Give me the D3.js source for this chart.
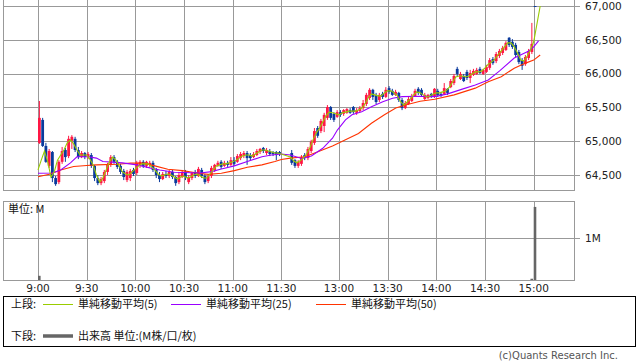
<!DOCTYPE html>
<html>
<head>
<meta charset="UTF-8">
<title>intraday chart</title>
<style>
  body { margin: 0; background: #fff; }
  svg text { font-family: "DejaVu Sans", sans-serif; fill: #222; }
  svg text.jp { font-family: "Noto Sans CJK JP", sans-serif; fill: #111; }
</style>
<script src="https://cdn.jsdelivr.net/npm/d3@7"></script>
</head>
<body>
<svg id="chart" width="638" height="362"></svg>
<script>
// 2-minute candles, morning session then afternoon session, then the 15:00 close
var sessions = [["9:00", "11:28"], ["12:30", "14:58"]]
var closeTime = "15:00"

var opens = [
  64975,65315,64930,64635,64840,64455,64395,64695,64870,64780,
  65005,65035,64870,64765,64825,64765,64795,64635,64455,64380,
  64410,64545,64650,64765,64695,64635,64560,64425,64455,64575,
  64530,64635,64695,64635,64650,64680,64575,64500,64440,64515,
  64485,64545,64470,64395,64470,64545,64395,64455,64545,64485,
  64575,64485,64410,64485,64575,64635,64695,64635,64680,64650,
  64720,64695,64750,64780,64825,64795,64765,64795,64840,64900,
  64825,64855,64840,64840,64840,
  64825,64720,64635,64665,64795,64750,64855,64975,65195,65150,
  65225,65345,65505,65405,65360,65430,65405,65420,65460,65505,
  65420,65445,65490,65550,65640,65760,65685,65610,65700,65655,
  65785,65745,65685,65715,65610,65490,65550,65595,65670,65775,
  65760,65625,65640,65700,65655,65745,65700,65700,65775,65800,
  65860,66070,65920,65965,66025,65935,65980,65995,66070,65995,
  66025,66085,66215,66185,66260,66305,66350,66530,66470,66425,
  66320,66200,66140,66230,66320,
  67000]
var highs = [
  65595,65345,64975,64885,64855,64485,64720,64915,64900,65080,
  65090,65065,64915,64855,64840,64840,64825,64650,64500,64470,
  64575,64680,64795,64795,64720,64665,64590,64575,64590,64605,
  64710,64720,64720,64710,64710,64710,64605,64545,64545,64560,
  64575,64575,64485,64545,64575,64575,64500,64545,64575,64620,
  64605,64515,64500,64635,64665,64710,64720,64710,64710,64765,
  64765,64810,64840,64855,64855,64825,64840,64885,64900,64915,
  64900,64885,64855,64855,64855,
  64870,64735,64720,64795,64825,64915,65020,65195,65225,65330,
  65420,65535,65520,65430,65460,65460,65475,65490,65490,65520,
  65490,65520,65610,65715,65785,65775,65715,65715,65730,65800,
  65815,65775,65760,65730,65640,65595,65655,65700,65775,65800,
  65785,65715,65700,65715,65785,65775,65730,65860,65785,65920,
  65995,66100,66025,65995,66055,66055,66070,66085,66100,66070,
  66130,66230,66245,66320,66365,66410,66480,66540,66510,66455,
  66350,66230,66275,66365,66750,
  67000]
var lows = [
  64960,64915,64680,64605,64395,64340,64365,64665,64695,64750,
  64885,64840,64735,64750,64735,64735,64605,64410,64350,64350,
  64380,64500,64620,64665,64590,64515,64425,64395,64410,64485,
  64500,64605,64605,64605,64620,64545,64455,64395,64425,64455,
  64455,64440,64340,64365,64455,64425,64365,64425,64455,64470,
  64455,64365,64380,64455,64545,64620,64590,64620,64620,64635,
  64635,64680,64720,64750,64650,64720,64750,64780,64810,64825,
  64795,64780,64780,64720,64780,
  64650,64605,64605,64635,64720,64720,64825,64945,65050,65120,
  65135,65315,65315,65285,65345,65360,65375,65405,65405,65405,
  65390,65430,65460,65520,65610,65610,65550,65580,65625,65640,
  65700,65670,65670,65580,65460,65475,65535,65580,65655,65685,
  65655,65610,65625,65640,65640,65655,65655,65685,65685,65785,
  65830,65965,65905,65875,65905,65860,65965,65980,65995,65980,
  66010,66055,66130,66155,66230,66275,66335,66395,66365,66245,
  66140,66055,66115,66200,66290,
  66990]
var closes = [
  65345,64930,64695,64855,64455,64365,64695,64855,64765,65035,
  65065,64870,64765,64825,64765,64810,64635,64455,64380,64440,
  64545,64650,64765,64695,64620,64545,64470,64545,64560,64515,
  64680,64695,64635,64695,64680,64575,64500,64440,64515,64485,
  64545,64470,64380,64500,64545,64470,64470,64530,64485,64590,
  64485,64395,64485,64605,64650,64680,64620,64680,64650,64720,
  64665,64780,64810,64825,64750,64750,64810,64855,64885,64855,
  64870,64810,64810,64795,64810,
  64680,64635,64695,64765,64750,64885,64990,65150,65080,65300,
  65390,65505,65345,65315,65430,65390,65460,65475,65420,65430,
  65460,65490,65565,65685,65760,65655,65580,65685,65655,65760,
  65730,65685,65730,65610,65490,65565,65625,65670,65745,65715,
  65685,65685,65685,65655,65775,65685,65670,65785,65715,65890,
  65965,65995,65995,65890,65935,66010,66040,66055,66010,66055,
  66100,66200,66155,66290,66335,66380,66455,66425,66395,66275,
  66170,66115,66245,66335,66440,
  66990]

// moving averages (one value per candle, plus the last point)
var ma5 = [
  64575,64720,64855,64695,64470,64545,64720,64795,64870,64975,
  65020,64960,64870,64795,64795,64795,64735,64650,64500,64395,
  64455,64575,64695,64765,64720,64635,64545,64515,64500,64545,
  64590,64635,64665,64665,64665,64620,64575,64515,64485,64500,
  64515,64500,64470,64440,64470,64485,64455,64470,64500,64515,
  64485,64455,64455,64515,64575,64635,64650,64665,64665,64680,
  64695,64720,64750,64780,64795,64795,64780,64810,64840,64870,
  64870,64855,64840,64825,64825,
  64765,64710,64680,64710,64750,64810,64900,65020,65120,65195,
  65285,65375,65430,65420,65405,65390,65420,65430,65445,65445,
  65445,65460,65490,65550,65640,65700,65685,65670,65670,65715,
  65745,65745,65715,65670,65580,65535,65580,65625,65685,65730,
  65715,65685,65655,65670,65700,65715,65715,65730,65745,65800,
  65875,65950,65965,65965,65950,65965,65995,66025,66025,66040,
  66085,66140,66170,66215,66275,66335,66395,66455,66455,66395,
  66305,66200,66185,66260,66350,
  66470,67000]
var ma5End = "15:04"

var ma25Times = ["9:00","9:09","9:14","9:20","9:24","9:31","9:36","9:40","9:52","10:01",
  "10:09","10:15","10:24","10:40","10:47","10:53","11:01","11:09","11:18","11:24","11:30",
  "12:30","12:37","12:43","12:50","12:56","12:59","13:04","13:08","13:14","13:20","13:27",
  "13:33","13:39","13:50","13:59","14:07","14:16","14:24","14:32","14:39","14:48","14:57",
  "15:00","15:03"]
var ma25 = [64525,64530,64575,64680,64770,64770,64750,64700,64680,64650,
  64605,64575,64540,64530,64550,64590,64635,64700,64770,64795,64810,
  64795,64745,64780,64895,65045,65165,65315,65390,65435,65510,65585,
  65635,65660,65665,65660,65700,65770,65830,65905,66040,66230,66335,
  66395,66485]

var ma50Times = ["9:00","9:07","9:14","9:22","9:30","9:36","9:49","9:57","10:05","10:12",
  "10:20","10:29","10:39","10:45","10:53","11:01","11:09","11:18","11:26","11:30",
  "12:30","12:39","12:47","12:56","13:04","13:12","13:20","13:28","13:35","13:41",
  "13:50","13:59","14:11","14:24","14:32","14:40","14:48","14:55","15:00","15:04"]
var ma50 = [64475,64510,64575,64625,64640,64650,64660,64675,64675,64635,
  64585,64565,64525,64510,64525,64565,64615,64650,64700,64730,
  64750,64770,64845,64930,65020,65115,65265,65390,65490,65535,
  65590,65620,65685,65785,65880,65955,66080,66155,66200,66275]

// volume, in millions
var volTimes = ["9:00", "14:58", "15:00"]
var volumes = [0.1, 0.03, 1.74]

var priceTicks = [64500, 65000, 65500, 66000, 66500, 67000]
var timeTicks = ["9:00","9:30","10:00","10:30","11:00","11:30","13:00","13:30","14:00","14:30","15:00"]

var legendTop = [
  {label: "単純移動平均(5)", color: "#99cc00"},
  {label: "単純移動平均(25)", color: "#9900ff"},
  {label: "単純移動平均(50)", color: "#ff3300"}
]

// ---- helpers
function toMin(s) {
  var p = s.split(":"), t = (+p[0]) * 60 + (+p[1])
  return t < 720 ? t - 540 : 155.5 + t - 750     // lunch break squeezed
}
function fmt(t) { return Math.floor(t / 60) + ":" + d3.format("02")(t % 60) }
var candleTimes = []
sessions.forEach(function (s) {
  var a = s[0].split(":"), b = s[1].split(":")
  for (var t = +a[0] * 60 + +a[1]; t <= +b[0] * 60 + +b[1]; t += 2) candleTimes.push(fmt(t))
})
candleTimes.push(closeTime)
var candles = candleTimes.map(function (t, i) {
  return {t: t, o: opens[i], h: highs[i], l: lows[i], c: closes[i]}
})

var svg = d3.select("#chart")
var L = 3, R = 574, top1 = -1, bot1 = 190, top2 = 201, bot2 = 280
var x = d3.scaleLinear().domain([0, 305.5]).range([38, 533.7])
var y = d3.scaleLinear().domain([64500, 67000]).range([175, 6])
var yv = d3.scaleLinear().domain([0, 1]).range([bot2, 238])
function px(v) { return Math.round(v) + 0.5 }

svg.append("rect").attr("width", 638).attr("height", 362).attr("fill", "#fff")

// ---- price panel
var grid = svg.append("g").attr("stroke", "#999").attr("stroke-width", 1).attr("shape-rendering", "crispEdges")
grid.selectAll(".hy").data(priceTicks).enter().append("line")
  .attr("x1", L).attr("x2", R + 6).attr("y1", function (d) { return px(y(d)) }).attr("y2", function (d) { return px(y(d)) })
grid.selectAll(".vx").data(timeTicks).enter().append("line")
  .attr("y1", top1).attr("y2", bot1).attr("x1", function (d) { return px(x(toMin(d))) }).attr("x2", function (d) { return px(x(toMin(d))) })
grid.append("rect").attr("x", L + 0.5).attr("y", top1 + 0.5).attr("width", R - L).attr("height", bot1 - top1).attr("fill", "none")

svg.selectAll(".ylab").data(priceTicks).enter().append("text")
  .attr("x", 585).attr("y", function (d) { return y(d) }).attr("dy", "0.36em")
  .style("font-size", "10.5px").text(d3.format(","))

svg.append("clipPath").attr("id", "clip1").append("rect").attr("x", L + 1).attr("y", 0).attr("width", R - L - 1).attr("height", bot1)
var plot = svg.append("g").attr("clip-path", "url(#clip1)")

var cw = 2.8
var cg = plot.selectAll(".candle").data(candles).enter().append("g")
  .attr("fill", function (d) { return d.c >= d.o ? "#ff1744" : "#0a3a9c" })
  .attr("stroke", "none")
cg.append("rect")
  .attr("x", function (d) { return x(toMin(d.t)) + cw / 2 - 0.5 })
  .attr("width", 1)
  .attr("y", function (d) { return y(d.h) })
  .attr("height", function (d) { return Math.max(1, y(d.l) - y(d.h)) })
cg.append("rect")
  .attr("x", function (d) { return x(toMin(d.t)) })
  .attr("width", cw)
  .attr("y", function (d) { return y(Math.max(d.o, d.c)) })
  .attr("height", function (d) { return Math.max(1, Math.abs(y(d.o) - y(d.c))) })

function drawLine(times, vals, color) {
  var pts = times.map(function (t, i) { return [toMin(t), vals[i]] })
  plot.append("path").datum(pts)
    .attr("fill", "none").attr("stroke", color).attr("stroke-width", 1.1)
    .attr("d", d3.line().x(function (d) { return x(d[0]) }).y(function (d) { return y(d[1]) }))
}
drawLine(ma50Times, ma50, "#ff3300")
drawLine(ma25Times, ma25, "#9900ff")
drawLine(candleTimes.concat([ma5End]), ma5, "#99cc00")

// ---- volume panel
var g2 = svg.append("g").attr("stroke", "#999").attr("shape-rendering", "crispEdges")
g2.append("line").attr("x1", L).attr("x2", R + 6).attr("y1", px(yv(1))).attr("y2", px(yv(1)))
g2.selectAll(".vx").data(timeTicks).enter().append("line")
  .attr("y1", top2).attr("y2", bot2).attr("x1", function (d) { return px(x(toMin(d))) }).attr("x2", function (d) { return px(x(toMin(d))) })
g2.append("rect").attr("x", L + 0.5).attr("y", top2 + 0.5).attr("width", R - L).attr("height", bot2 - top2).attr("fill", "none")

svg.append("text").attr("x", 585).attr("y", yv(1)).attr("dy", "0.36em").style("font-size", "10.5px").text("1M")
svg.append("text").attr("class", "jp").attr("x", 8).attr("y", 213).style("font-size", "11px").text("単位: M")

svg.append("g").selectAll("rect").data(volTimes).enter().append("rect")
  .attr("fill", "#666")
  .attr("x", function (d) { return x(toMin(d)) })
  .attr("width", 2.6)
  .attr("y", function (d, i) { return yv(volumes[i]) })
  .attr("height", function (d, i) { return bot2 - yv(volumes[i]) })

svg.selectAll(".xlab").data(timeTicks).enter().append("text")
  .attr("x", function (d) { return x(toMin(d)) }).attr("y", 291.5)
  .attr("text-anchor", "middle").style("font-size", "10.5px").text(function (d) { return d })

// ---- legend
var lg = svg.append("g")
lg.append("rect").attr("x", 3.5).attr("y", 296.5).attr("width", 632).attr("height", 50)
  .attr("fill", "none").attr("stroke", "#000").attr("shape-rendering", "crispEdges")
lg.append("text").attr("class", "jp").attr("x", 11).attr("y", 308).style("font-size", "11px").text("上段:")
var legX = [43, 171, 316]
legendTop.forEach(function (d, i) {
  lg.append("line").attr("x1", legX[i]).attr("x2", legX[i] + 30).attr("y1", 304.5).attr("y2", 304.5)
    .attr("stroke", d.color).attr("shape-rendering", "crispEdges")
  lg.append("text").attr("class", "jp").attr("x", legX[i] + 35).attr("y", 308).style("font-size", "11px").text(d.label)
})
lg.append("text").attr("class", "jp").attr("x", 11).attr("y", 340).style("font-size", "11px").text("下段:")
lg.append("line").attr("x1", 43).attr("x2", 73).attr("y1", 336).attr("y2", 336)
  .attr("stroke", "#666").attr("stroke-width", 3.5)
lg.append("text").attr("class", "jp").attr("x", 78).attr("y", 340).style("font-size", "11px").text("出来高 単位:(M株/口/枚)")

svg.append("text").attr("x", 618).attr("y", 359).attr("text-anchor", "end")
  .style("font-size", "10px").style("fill", "#555").text("(c)Quants Research Inc.")
</script>
</body>
</html>
